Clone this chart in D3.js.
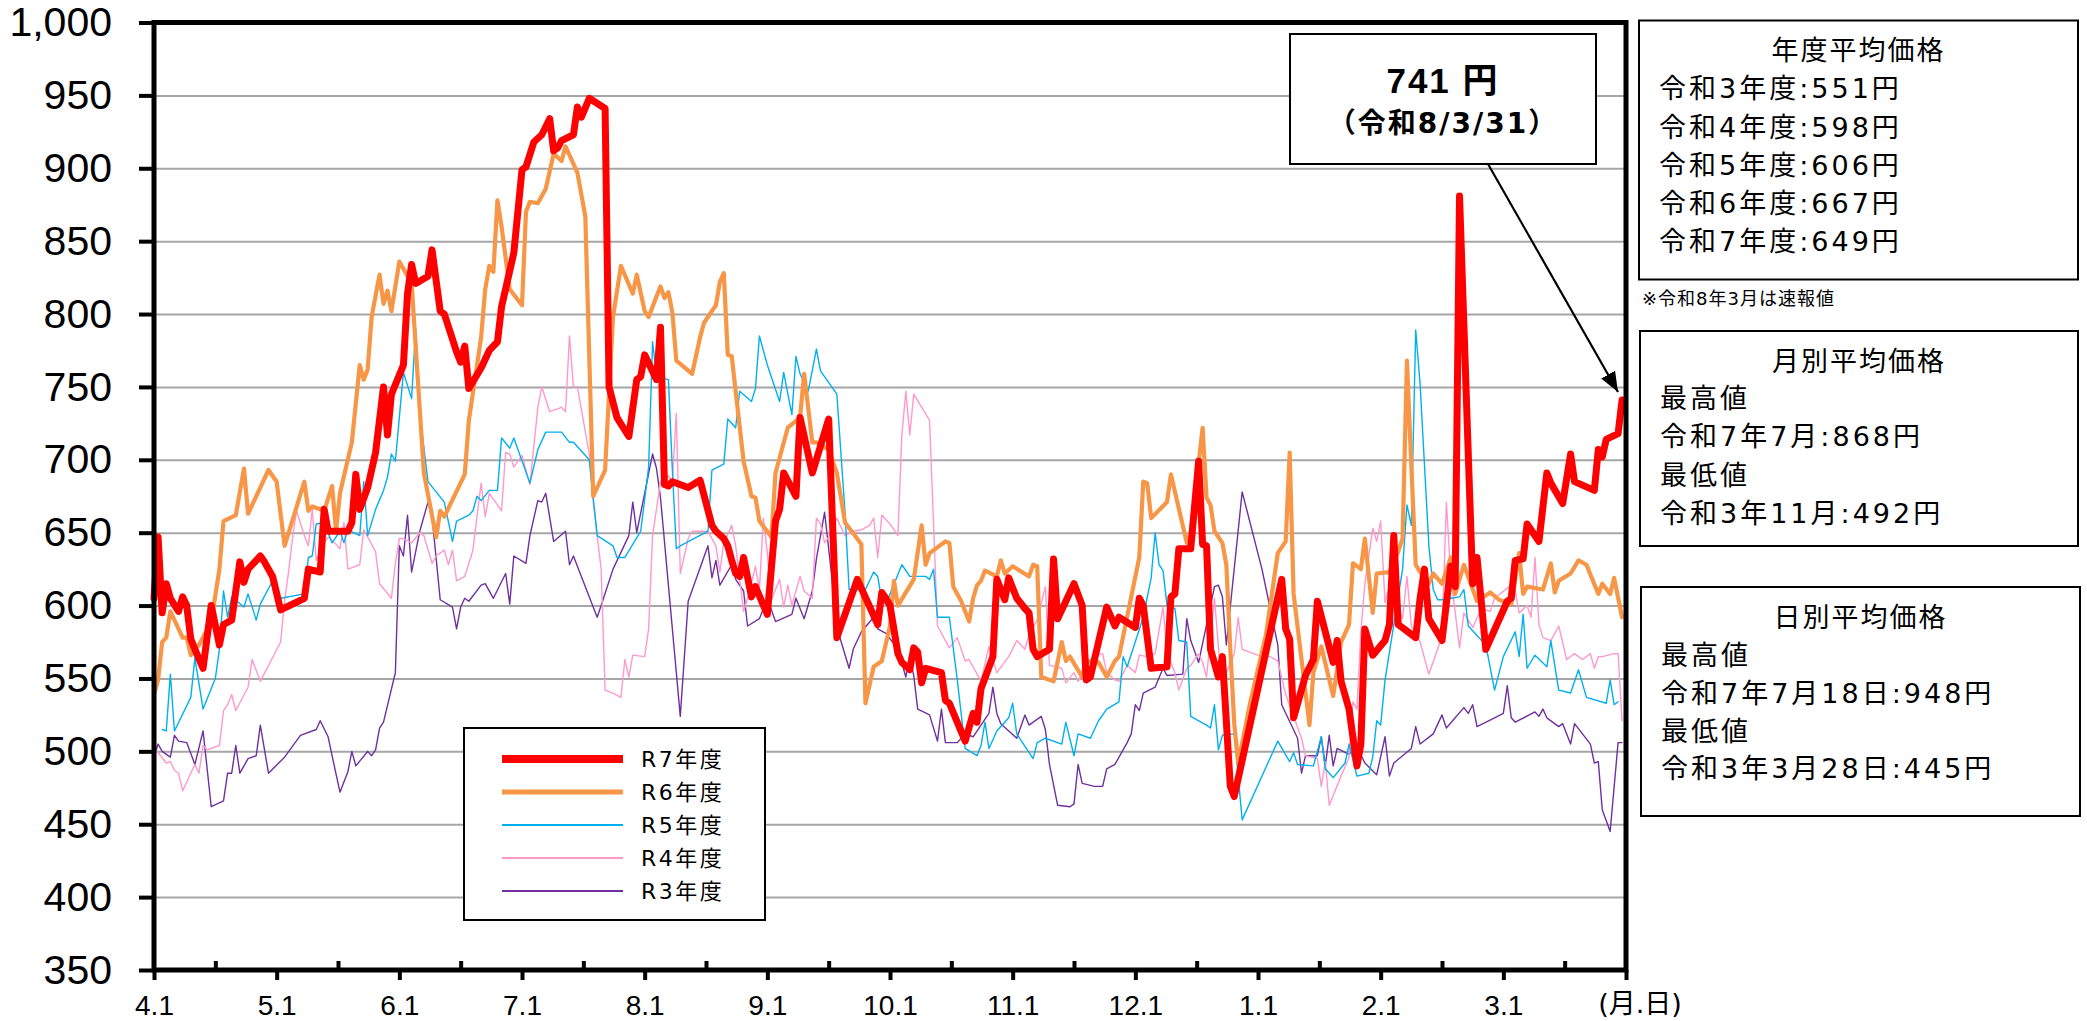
<!DOCTYPE html>
<html>
<head>
<meta charset="utf-8">
<script src="https://cdn.jsdelivr.net/npm/d3@7"></script>
<style>
  body { margin: 0; background: #fff; }
</style>
</head>
<body>
<div id="chart-area"></div>
<script>
// ---- data ----
const seriesNames = ["R7年度", "R6年度", "R5年度", "R4年度", "R3年度"];

const r7 = [["4/1",605],["4/2",647],["4/3",595],["4/4",615],["4/5",605],["4/7",596],["4/8",606],["4/9",600],["4/10",577],["4/11",570],["4/13",557],["4/15",600],["4/17",573],["4/18",587],["4/20",590],["4/22",630],["4/23",616],["4/24",625],["4/27",634],["4/28",630],["4/30",620],["5/2",597],["5/8",605],["5/9",625],["5/12",623],["5/13",666],["5/14",651],["5/19",651],["5/20",657],["5/21",690],["5/22",666],["5/24",681],["5/26",705],["5/28",750],["5/29",717],["5/30",745],["6/2",765],["6/3",814],["6/4",834],["6/5",821],["6/8",826],["6/9",844],["6/11",802],["6/12",800],["6/15",774],["6/16",767],["6/17",778],["6/18",749],["6/21",763],["6/23",775],["6/25",781],["6/26",805],["6/29",842],["7/1",899],["7/2",901],["7/4",918],["7/6",923],["7/8",934],["7/9",912],["7/10",914],["7/11",919],["7/14",923],["7/15",942],["7/16",935],["7/18",948],["7/22",941],["7/23",750],["7/25",729],["7/28",716],["7/30",755],["7/31",757],["8/1",772],["8/4",755],["8/5",791],["8/6",683],["8/7",682],["8/8",685],["8/12",681],["8/15",686],["8/18",655],["8/19",651],["8/21",646],["8/22",641],["8/23",631],["8/24",622],["8/25",620],["8/26",633],["8/28",606],["8/29",613],["9/1",594],["9/3",658],["9/4",666],["9/5",691],["9/8",675],["9/9",729],["9/12",691],["9/16",728],["9/18",578],["9/23",618],["9/28",587],["9/29",609],["9/30",605],["10/1",600],["10/3",567],["10/4",561],["10/6",556],["10/7",571],["10/8",568],["10/9",547],["10/10",557],["10/14",554],["10/15",535],["10/16",533],["10/20",507],["10/22",526],["10/23",520],["10/24",543],["10/27",565],["10/28",618],["10/30",604],["10/31",619],["11/2",605],["11/4",598],["11/5",595],["11/6",570],["11/7",565],["11/10",570],["11/11",632],["11/12",591],["11/16",615],["11/18",600],["11/19",549],["11/20",551],["11/24",599],["11/26",586],["11/27",592],["12/1",585],["12/2",605],["12/3",600],["12/5",557],["12/9",558],["12/10",606],["12/11",608],["12/12",639],["12/15",639],["12/17",699],["12/18",642],["12/19",641],["12/20",570],["12/22",551],["12/23",565],["12/25",476],["12/26",469],["1/7",618],["1/8",584],["1/9",577],["1/10",523],["1/13",552],["1/15",563],["1/16",603],["1/20",561],["1/21",576],["1/22",548],["1/24",529],["1/26",490],["1/27",505],["1/28",584],["1/30",566],["2/2",576],["2/3",587],["2/4",648],["2/5",587],["2/9",578],["2/10",605],["2/11",625],["2/12",591],["2/15",576],["2/17",627],["2/18",613],["2/19",881],["2/22",615],["2/23",633],["2/25",570],["3/2",603],["3/3",605],["3/4",631],["3/6",632],["3/7",656],["3/10",644],["3/12",691],["3/13",684],["3/16",670],["3/18",704],["3/19",685],["3/24",679],["3/25",707],["3/26",702],["3/27",714],["3/30",718],["3/31",741]];

const r6 = [["4/1",539],["4/2",549],["4/3",575],["4/4",578],["4/5",596],["4/8",578],["4/9",578],["4/10",566],["4/12",573],["4/15",589],["4/17",625],["4/18",658],["4/21",662],["4/23",694],["4/24",663],["4/29",693],["5/1",685],["5/3",641],["5/8",685],["5/9",665],["5/10",668],["5/13",665],["5/15",682],["5/16",651],["5/17",677],["5/20",712],["5/22",765],["5/23",755],["5/24",762],["5/25",798],["5/27",827],["5/28",807],["5/29",816],["5/30",802],["6/1",836],["6/4",821],["6/7",691],["6/10",647],["6/11",665],["6/12",661],["6/17",690],["6/18",727],["6/21",784],["6/22",817],["6/23",833],["6/24",829],["6/25",878],["6/26",860],["6/28",817],["7/1",806],["7/2",870],["7/3",877],["7/5",876],["7/7",886],["7/9",910],["7/11",905],["7/12",915],["7/15",897],["7/17",867],["7/19",675],["7/22",693],["7/24",798],["7/26",833],["7/29",814],["7/30",827],["8/1",802],["8/2",798],["8/5",819],["8/6",811],["8/7",815],["8/8",801],["8/9",768],["8/13",759],["8/15",784],["8/16",794],["8/19",806],["8/20",822],["8/21",828],["8/22",772],["8/23",771],["8/26",699],["8/28",675],["8/29",674],["8/30",658],["9/2",647],["9/3",691],["9/6",722],["9/9",729],["9/10",759],["9/12",712],["9/13",712],["9/16",707],["9/18",691],["9/20",657],["9/24",642],["9/25",533],["9/27",558],["9/29",562],["10/1",586],["10/2",617],["10/3",600],["10/7",618],["10/9",655],["10/10",628],["10/11",636],["10/15",644],["10/16",643],["10/17",613],["10/19",603],["10/21",589],["10/22",605],["10/23",614],["10/24",617],["10/25",624],["10/28",620],["10/29",631],["10/30",622],["11/1",627],["11/5",620],["11/6",628],["11/7",627],["11/8",551],["11/11",548],["11/13",575],["11/14",562],["11/15",565],["11/18",551],["11/19",562],["11/22",561],["11/24",551],["11/26",562],["11/27",565],["12/2",633],["12/3",685],["12/4",684],["12/5",660],["12/9",671],["12/10",690],["12/14",643],["12/15",650],["12/18",722],["12/19",674],["12/20",669],["12/21",651],["12/23",643],["12/24",628],["12/25",570],["12/26",519],["12/27",492],["12/30",533],["1/3",580],["1/6",636],["1/8",644],["1/9",705],["1/10",608],["1/14",518],["1/15",554],["1/17",572],["1/20",538],["1/22",575],["1/24",587],["1/25",629],["1/27",625],["1/28",646],["1/30",595],["1/31",622],["2/3",623],["2/5",637],["2/6",646],["2/7",768],["2/8",696],["2/9",628],["2/10",623],["2/12",615],["2/13",622],["2/15",615],["2/17",633],["2/18",608],["2/20",628],["2/23",603],["2/26",609],["2/28",604],["3/3",601],["3/5",636],["3/6",608],["3/7",613],["3/11",611],["3/13",629],["3/14",609],["3/15",617],["3/18",622],["3/20",631],["3/22",628],["3/25",608],["3/26",615],["3/28",608],["3/29",619],["3/31",592]];

const r5 = [["4/3",515],["4/4",514],["4/5",553],["4/6",514],["4/10",537],["4/11",564],["4/13",529],["4/16",550],["4/17",570],["4/18",610],["4/19",592],["4/20",606],["4/23",599],["4/24",608],["4/26",590],["4/27",601],["4/30",617],["5/2",605],["5/8",608],["5/9",633],["5/10",634],["5/11",656],["5/13",657],["5/15",643],["5/17",651],["5/18",643],["5/19",652],["5/22",648],["5/23",685],["5/24",648],["5/26",666],["5/28",679],["5/29",688],["5/30",704],["5/31",699],["6/2",760],["6/4",742],["6/5",790],["6/6",732],["6/8",685],["6/12",671],["6/14",644],["6/15",658],["6/18",662],["6/19",665],["6/20",675],["6/21",672],["6/23",679],["6/25",679],["6/26",715],["6/28",708],["6/29",715],["7/3",684],["7/5",707],["7/7",719],["7/11",719],["7/13",712],["7/14",712],["7/18",700],["7/20",648],["7/24",641],["7/25",633],["7/27",633],["7/31",651],["8/2",695],["8/3",781],["8/4",757],["8/7",755],["8/8",693],["8/9",639],["8/10",641],["8/17",651],["8/18",693],["8/21",697],["8/22",728],["8/24",722],["8/25",747],["8/28",740],["8/29",749],["8/30",785],["9/1",765],["9/4",740],["9/5",760],["9/7",731],["9/8",771],["9/9",759],["9/11",747],["9/13",776],["9/14",761],["9/18",745],["9/20",664],["9/21",611],["9/25",611],["9/27",623],["9/28",620],["9/29",603],["9/30",601],["10/4",628],["10/6",620],["10/10",620],["10/11",618],["10/12",625],["10/13",592],["10/16",592],["10/18",549],["10/20",502],["10/23",497],["10/24",504],["10/25",520],["10/26",502],["10/28",514],["10/31",523],["11/1",533],["11/2",512],["11/6",495],["11/7",506],["11/9",509],["11/13",505],["11/14",520],["11/16",497],["11/17",512],["11/20",509],["11/22",521],["11/24",529],["11/27",534],["11/28",565],["11/29",558],["12/3",592],["12/5",619],["12/6",650],["12/7",628],["12/8",624],["12/9",600],["12/11",598],["12/12",576],["12/14",575],["12/15",524],["12/19",518],["12/20",516],["12/21",532],["12/22",501],["12/23",511],["12/26",512],["12/28",453],["1/6",507],["1/9",493],["1/10",499],["1/11",491],["1/15",490],["1/17",510],["1/18",488],["1/20",482],["1/23",492],["1/24",505],["1/26",483],["1/29",485],["1/30",496],["1/31",521],["2/1",518],["2/2",549],["2/4",587],["2/6",625],["2/7",669],["2/8",655],["2/9",789],["2/10",752],["2/12",641],["2/13",611],["2/14",604],["2/16",604],["2/17",605],["2/19",606],["2/20",611],["2/21",586],["2/25",573],["2/27",542],["3/1",565],["3/4",582],["3/5",565],["3/6",594],["3/7",557],["3/9",566],["3/12",558],["3/13",576],["3/15",542],["3/18",540],["3/20",556],["3/22",537],["3/27",533],["3/28",549],["3/29",532],["3/30",534]];

const r4 = [["4/1",502],["4/2",499],["4/4",492],["4/5",493],["4/6",487],["4/7",485],["4/8",473],["4/11",491],["4/12",485],["4/13",504],["4/14",501],["4/17",504],["4/18",528],["4/19",532],["4/20",539],["4/21",528],["4/24",544],["4/25",563],["4/27",548],["5/2",575],["5/3",603],["5/4",623],["5/5",646],["5/6",665],["5/8",648],["5/9",641],["5/10",666],["5/11",631],["5/13",643],["5/14",647],["5/16",642],["5/17",639],["5/18",657],["5/19",625],["5/22",628],["5/23",652],["5/26",637],["5/27",615],["5/30",605],["5/31",629],["6/1",646],["6/2",646],["6/4",643],["6/6",650],["6/7",648],["6/9",629],["6/10",634],["6/12",638],["6/13",628],["6/14",638],["6/15",617],["6/17",620],["6/19",638],["6/21",684],["6/22",661],["6/23",677],["6/26",665],["6/27",705],["6/28",704],["6/29",695],["7/1",703],["7/3",683],["7/5",736],["7/6",750],["7/8",733],["7/11",736],["7/12",733],["7/13",785],["7/14",750],["7/15",750],["7/18",704],["7/19",671],["7/21",625],["7/22",542],["7/24",540],["7/26",537],["7/27",563],["7/28",551],["7/29",566],["8/1",565],["8/2",584],["8/3",648],["8/5",685],["8/7",689],["8/8",685],["8/9",732],["8/10",622],["8/12",646],["8/13",651],["8/17",651],["8/19",641],["8/20",623],["8/21",643],["8/23",655],["8/24",641],["8/26",596],["8/27",605],["8/29",627],["8/30",611],["8/31",660],["9/1",636],["9/2",604],["9/4",618],["9/5",599],["9/6",614],["9/7",600],["9/9",620],["9/10",610],["9/12",605],["9/13",660],["9/14",656],["9/15",643],["9/16",647],["9/18",660],["9/20",648],["9/22",651],["9/24",652],["9/26",655],["9/27",660],["9/28",633],["9/29",662],["10/1",656],["10/3",648],["10/4",717],["10/5",747],["10/6",717],["10/7",745],["10/11",727],["10/13",586],["10/16",571],["10/18",578],["10/20",562],["10/21",563],["10/24",548],["10/26",572],["10/28",554],["10/31",565],["11/2",576],["11/4",570],["11/5",580],["11/7",590],["11/9",613],["11/10",559],["11/13",557],["11/14",547],["11/16",554],["11/17",548],["11/19",559],["11/21",566],["11/23",567],["11/24",554],["11/26",549],["11/27",548],["11/29",559],["12/1",554],["12/2",566],["12/4",565],["12/6",567],["12/8",599],["12/9",568],["12/11",554],["12/12",542],["12/14",557],["12/15",559],["12/17",567],["12/18",561],["12/19",551],["12/21",605],["12/23",539],["12/24",554],["12/26",567],["12/27",592],["12/28",570],["1/1",566],["1/4",565],["1/6",562],["1/8",539],["1/10",524],["1/12",509],["1/13",497],["1/16",495],["1/17",476],["1/18",493],["1/19",463],["1/22",483],["1/24",496],["1/25",534],["1/26",529],["1/27",582],["1/28",615],["1/30",653],["1/31",644],["2/1",658],["2/2",602],["2/3",613],["2/6",591],["2/7",620],["2/8",586],["2/10",575],["2/12",553],["2/14",570],["2/15",580],["2/16",671],["2/17",620],["2/19",571],["2/20",595],["2/22",585],["2/24",598],["2/26",596],["2/27",605],["3/3",614],["3/4",610],["3/5",595],["3/7",600],["3/8",592],["3/9",633],["3/10",587],["3/11",578],["3/13",576],["3/15",586],["3/17",563],["3/19",567],["3/21",563],["3/23",567],["3/24",557],["3/25",565],["3/26",565],["3/29",567],["3/30",567],["3/31",521]];

const r3 = [["4/1",496],["4/2",505],["4/3",500],["4/5",496],["4/6",511],["4/7",507],["4/9",506],["4/11",491],["4/13",514],["4/15",462],["4/18",466],["4/19",485],["4/20",485],["4/21",504],["4/22",485],["4/24",495],["4/26",497],["4/27",518],["4/29",485],["5/3",496],["5/7",511],["5/11",515],["5/12",521],["5/14",510],["5/15",497],["5/17",472],["5/19",486],["5/20",500],["5/21",490],["5/24",500],["5/25",497],["5/26",501],["5/27",516],["5/28",520],["5/31",554],["6/1",641],["6/2",634],["6/3",662],["6/4",623],["6/6",651],["6/8",671],["6/9",661],["6/11",604],["6/14",599],["6/15",584],["6/16",599],["6/17",605],["6/18",603],["6/21",614],["6/22",615],["6/24",605],["6/27",622],["6/28",601],["6/29",634],["7/2",629],["7/3",648],["7/5",672],["7/6",671],["7/7",677],["7/9",644],["7/12",651],["7/13",628],["7/14",634],["7/16",620],["7/20",592],["7/21",600],["7/24",625],["7/28",648],["7/29",671],["7/30",650],["8/3",704],["8/4",694],["8/5",674],["8/10",524],["8/12",603],["8/17",641],["8/18",619],["8/19",631],["8/20",614],["8/23",628],["8/24",618],["8/26",610],["8/27",586],["8/30",591],["9/1",605],["9/3",589],["9/7",594],["9/8",605],["9/10",591],["9/12",610],["9/13",632],["9/15",664],["9/17",614],["9/18",585],["9/21",557],["9/22",570],["9/24",582],["9/27",592],["9/28",584],["9/30",581],["10/3",570],["10/5",551],["10/6",565],["10/7",552],["10/8",529],["10/11",525],["10/13",507],["10/14",529],["10/15",506],["10/18",506],["10/20",512],["10/22",510],["10/26",526],["10/27",544],["10/28",526],["10/29",519],["11/2",509],["11/4",525],["11/5",518],["11/8",524],["11/9",515],["11/10",491],["11/12",463],["11/15",462],["11/16",464],["11/17",491],["11/18",478],["11/21",476],["11/23",476],["11/24",488],["11/26",491],["11/29",506],["11/30",512],["12/1",532],["12/2",528],["12/3",540],["12/6",544],["12/8",557],["12/9",552],["12/13",553],["12/14",591],["12/15",576],["12/17",561],["12/21",613],["12/22",614],["12/23",606],["12/24",573],["12/28",678],["1/2",625],["1/6",573],["1/7",532],["1/11",509],["1/12",485],["1/13",497],["1/16",497],["1/17",510],["1/18",490],["1/19",511],["1/20",490],["1/21",502],["1/24",498],["1/26",503],["1/28",492],["1/31",484],["2/2",510],["2/3",483],["2/4",492],["2/8",502],["2/9",517],["2/10",505],["2/13",512],["2/15",525],["2/16",516],["2/20",530],["2/21",526],["2/22",532],["2/23",517],["2/27",523],["3/1",526],["3/2",545],["3/3",523],["3/4",520],["3/9",527],["3/10",524],["3/11",529],["3/12",523],["3/15",517],["3/16",519],["3/18",505],["3/19",519],["3/23",505],["3/24",492],["3/25",493],["3/26",460],["3/28",445],["3/30",506],["3/31",506]];

const yTicks = [350, 400, 450, 500, 550, 600, 650, 700, 750, 800, 850, 900, 950, 1000];
const monthLabels = ["4.1", "5.1", "6.1", "7.1", "8.1", "9.1", "10.1", "11.1", "12.1", "1.1", "2.1", "3.1"];
const fiscalMonths = [4, 5, 6, 7, 8, 9, 10, 11, 12, 1, 2, 3];
const monthDays = [30, 31, 30, 31, 31, 30, 31, 30, 31, 31, 28, 31];

const latestValue = "741 円";
const latestDate = "（令和8/3/31）";
const yearTitle = "年度平均価格";
const yearLines = ["令和3年度:551円", "令和4年度:598円", "令和5年度:606円", "令和6年度:667円", "令和7年度:649円"];
const yearNote = "※令和8年3月は速報値";
const monthTitle = "月別平均価格";
const monthLines = ["最高値", "令和7年7月:868円", "最低値", "令和3年11月:492円"];
const dayTitle = "日別平均価格";
const dayLines = ["最高値", "令和7年7月18日:948円", "最低値", "令和3年3月28日:445円"];

// ---- layout ----
const canvasWidth = 2087;
const canvasHeight = 1021;
const plot = {left: 154, top: 22.5, right: 1626, bottom: 970};
const colors = ["#FF0000", "#F79646", "#00B0F0", "#FF99CC", "#7030A0"];
const widths = [7, 4.2, 1.4, 1.4, 1.4];
const allSeries = [r7, r6, r5, r4, r3];
const jpFont = "'DejaVu Sans', 'Noto Sans CJK JP', sans-serif";

var svg = d3.select("#chart-area")
    .append("svg")
        .attr("width", canvasWidth)
        .attr("height", canvasHeight)
        .style("display", "block");

svg.append("rect").attr("width", canvasWidth).attr("height", canvasHeight).attr("fill", "#fff");

// month position: 0 = 4/1, each month equal width
function monthPos(s) {
    var parts = s.split("/").map(Number);
    var i = fiscalMonths.indexOf(parts[0]);
    return i + (parts[1] - 1) / monthDays[i];
}

var x = d3.scaleLinear().domain([0, 12]).range([plot.left, plot.right]);
var y = d3.scaleLinear().domain([350, 1000]).range([plot.bottom, plot.top]);

// gridlines
var grid = svg.append("g")
    .attr("transform", "translate(" + plot.left + ",0)")
    .call(d3.axisLeft(y).tickValues(yTicks.filter(d => d > 350 && d < 1000))
        .tickSize(-(plot.right - plot.left)).tickFormat(""));
grid.select(".domain").remove();
grid.selectAll("line").attr("stroke", "#A6A6A6").attr("stroke-width", 2);

// series (oldest first so R7 sits on top)
var line = d3.line()
    .x(d => x(monthPos(d[0])))
    .y(d => y(d[1]));

for (var k = allSeries.length - 1; k >= 0; k--) {
    svg.append("path")
        .datum(allSeries[k])
        .attr("fill", "none")
        .attr("stroke", colors[k])
        .attr("stroke-width", widths[k])
        .attr("stroke-linejoin", "round")
        .attr("stroke-linecap", "round")
        .attr("d", line);
}

// frame
svg.append("rect")
    .attr("x", plot.left).attr("y", plot.top)
    .attr("width", plot.right - plot.left).attr("height", plot.bottom - plot.top)
    .attr("fill", "none").attr("stroke", "#000").attr("stroke-width", 5);

// y axis
var yAxisGroup = svg.append("g")
    .attr("transform", "translate(" + plot.left + ",0)")
    .call(d3.axisLeft(y).tickValues(yTicks).tickSize(15).tickPadding(27).tickFormat(d3.format(",")));
yAxisGroup.select(".domain").remove();
yAxisGroup.selectAll("line").attr("stroke", "#000").attr("stroke-width", 4);
yAxisGroup.selectAll("text")
    .attr("font-family", "'Liberation Sans', Arial, sans-serif")
    .attr("font-size", 41).attr("fill", "#000");

// x axis: month starts (down) + mid-month (up)
var xAxisGroup = svg.append("g")
    .attr("transform", "translate(0," + plot.bottom + ")")
    .call(d3.axisBottom(x).tickValues(d3.range(0, 13)).tickSize(10)
        .tickFormat((d, i) => monthLabels[i] || ""));
xAxisGroup.select(".domain").remove();
xAxisGroup.selectAll("line").attr("stroke", "#000").attr("stroke-width", 4);
xAxisGroup.selectAll("text")
    .attr("y", 45).attr("dy", 0)
    .attr("font-family", "'Liberation Sans', Arial, sans-serif")
    .attr("font-size", 28).attr("fill", "#000");

var xMinor = svg.append("g")
    .attr("transform", "translate(0," + plot.bottom + ")")
    .call(d3.axisBottom(x).tickValues(d3.range(0.5, 12, 1)).tickSize(-9).tickFormat(""));
xMinor.select(".domain").remove();
xMinor.selectAll("line").attr("stroke", "#000").attr("stroke-width", 4);

svg.append("text")
    .attr("x", 1640).attr("y", 1013)
    .attr("text-anchor", "middle")
    .attr("font-family", jpFont).attr("font-size", 27)
    .text("(月.日)");

// legend
var legend = svg.append("g").attr("transform", "translate(464,728)");
legend.append("rect").attr("width", 301).attr("height", 192)
    .attr("fill", "#fff").attr("stroke", "#000").attr("stroke-width", 2);
seriesNames.forEach((name, i) => {
    var row = legend.append("g").attr("transform", "translate(0," + (31 + i * 33) + ")");
    row.append("line").attr("x1", 38).attr("x2", 159)
        .attr("stroke", colors[i]).attr("stroke-width", i < 2 ? widths[i] + 1 : 1.8);
    row.append("text").attr("x", 177).attr("dy", "0.36em")
        .attr("font-family", jpFont).attr("font-size", 22)
        .attr("letter-spacing", 2.5)
        .text(name);
});

// callout for the latest value
svg.append("defs").append("marker")
    .attr("id", "arrow").attr("markerUnits", "userSpaceOnUse")
    .attr("viewBox", "0 0 20 16").attr("refX", 20).attr("refY", 8)
    .attr("markerWidth", 20).attr("markerHeight", 16).attr("orient", "auto")
  .append("path").attr("d", "M0,0 L20,8 L0,16 Z").attr("fill", "#000");

svg.append("line")
    .attr("x1", 1488).attr("y1", 164)
    .attr("x2", 1618).attr("y2", 392)
    .attr("stroke", "#000").attr("stroke-width", 2.2)
    .attr("marker-end", "url(#arrow)");

svg.append("rect")
    .attr("x", 1290).attr("y", 34).attr("width", 306).attr("height", 130)
    .attr("fill", "#fff").attr("stroke", "#000").attr("stroke-width", 2);
svg.append("text")
    .attr("x", 1443).attr("y", 80).attr("dy", "0.36em")
    .attr("text-anchor", "middle")
    .attr("font-family", "'Liberation Sans', 'Noto Sans CJK JP', sans-serif")
    .attr("font-weight", "bold").attr("font-size", 35).attr("letter-spacing", 2)
    .text(latestValue);
svg.append("text")
    .attr("x", 1443).attr("y", 123).attr("dy", "0.36em")
    .attr("text-anchor", "middle")
    .attr("font-family", jpFont)
    .attr("font-weight", "bold").attr("font-size", 28).attr("letter-spacing", 2)
    .text(latestDate);

// info boxes on the right
function infoBox(x0, y0, w, h, title, titleY, lines, lineYs) {
    svg.append("rect").attr("x", x0).attr("y", y0).attr("width", w).attr("height", h)
        .attr("fill", "#fff").attr("stroke", "#000").attr("stroke-width", 2);
    svg.append("text").attr("x", x0 + w / 2).attr("y", titleY).attr("dy", "0.36em")
        .attr("text-anchor", "middle")
        .attr("font-family", jpFont).attr("font-size", 27).attr("letter-spacing", 2)
        .text(title);
    lines.forEach((t, i) => {
        svg.append("text").attr("x", x0 + 20).attr("y", lineYs[i]).attr("dy", "0.36em")
            .attr("font-family", jpFont).attr("font-size", 27).attr("letter-spacing", 3)
            .text(t);
    });
}

infoBox(1639, 20.5, 439, 259, yearTitle, 50, yearLines, [88, 127, 165, 203, 241]);
svg.append("text").attr("x", 1642).attr("y", 299).attr("dy", "0.36em")
    .attr("font-family", jpFont).attr("font-size", 18).attr("letter-spacing", 1)
    .text(yearNote);
infoBox(1640, 331, 438, 215, monthTitle, 361, monthLines, [398, 436, 475, 513]);
infoBox(1641, 587, 439, 229, dayTitle, 617, dayLines, [655, 693, 731, 768]);
</script>
</body>
</html>
